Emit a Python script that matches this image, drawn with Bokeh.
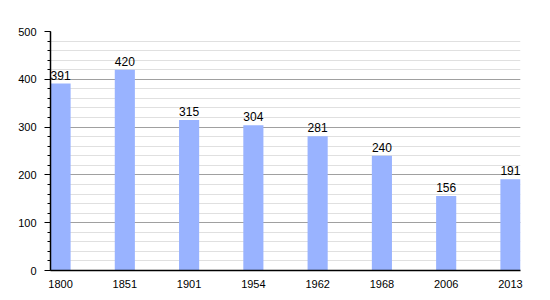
from bokeh.plotting import figure
from bokeh.models import ColumnDataSource, Range1d, FixedTicker, LabelSet
from bokeh.core.properties import value
from bokeh.embed import file_html
from bokeh.resources import INLINE

years = ["1800", "1851", "1901", "1954", "1962", "1968", "2006", "2013"]
population = [391, 420, 315, 304, 281, 240, 156, 191]
y_ticks = [0, 100, 200, 300, 400, 500]

xs = list(range(len(years)))
bar_w = 0.313
src = ColumnDataSource(dict(x=xs, top=population, lbl=[str(v) for v in population]))

p = figure(width=550, height=300, output_backend="svg", toolbar_location=None,
           x_range=Range1d(-bar_w / 2, len(years) - 1 + bar_w / 2),
           y_range=Range1d(0, 500),
           min_border_left=50, min_border_right=30, min_border_top=31, min_border_bottom=30)
p.outline_line_color = None
p.background_fill_color = "white"
p.border_fill_color = "white"

p.vbar(x="x", top="top", width=bar_w, source=src, color="#99b3ff", line_color=None)

labels = LabelSet(x="x", y="top", text="lbl", source=src, text_align="center",
                  text_baseline="bottom", y_offset=4, text_font=value("Liberation Sans"),
                  text_font_size=value("12px"), text_color="#000000")
p.add_layout(labels)

# x axis
p.xaxis.ticker = FixedTicker(ticks=xs)
p.xaxis.major_label_overrides = {i: y for i, y in enumerate(years)}
p.xaxis.major_tick_line_color = None
p.xaxis.minor_tick_line_color = None
p.xaxis.axis_line_color = "#000000"
p.xaxis.axis_line_width = 1.5
p.xaxis.major_label_text_font = "Liberation Sans"
p.xaxis.major_label_text_font_size = "11px"
p.xaxis.major_label_text_color = "#000000"
p.xaxis.major_label_standoff = 3
p.xgrid.grid_line_color = None

# y axis
p.yaxis.ticker = FixedTicker(ticks=y_ticks, minor_ticks=list(range(0, 501, 20)))
p.yaxis.axis_line_color = "#000000"
p.yaxis.axis_line_width = 1.5
p.yaxis.major_tick_line_color = "#000000"
p.yaxis.major_tick_out = 6
p.yaxis.major_tick_in = 0
p.yaxis.minor_tick_line_color = "#000000"
p.yaxis.minor_tick_out = 3
p.yaxis.minor_tick_in = 0
p.yaxis.major_label_text_font = "Liberation Sans"
p.yaxis.major_label_text_font_size = "11px"
p.yaxis.major_label_text_color = "#000000"
p.yaxis.major_label_standoff = 8

p.ygrid.grid_line_color = "#a0a0a0"
p.ygrid.grid_line_width = 1
p.ygrid.minor_grid_line_color = "#e0e0e0"
p.ygrid.minor_grid_line_width = 1

open("out.html", "w").write(file_html(p, INLINE))
